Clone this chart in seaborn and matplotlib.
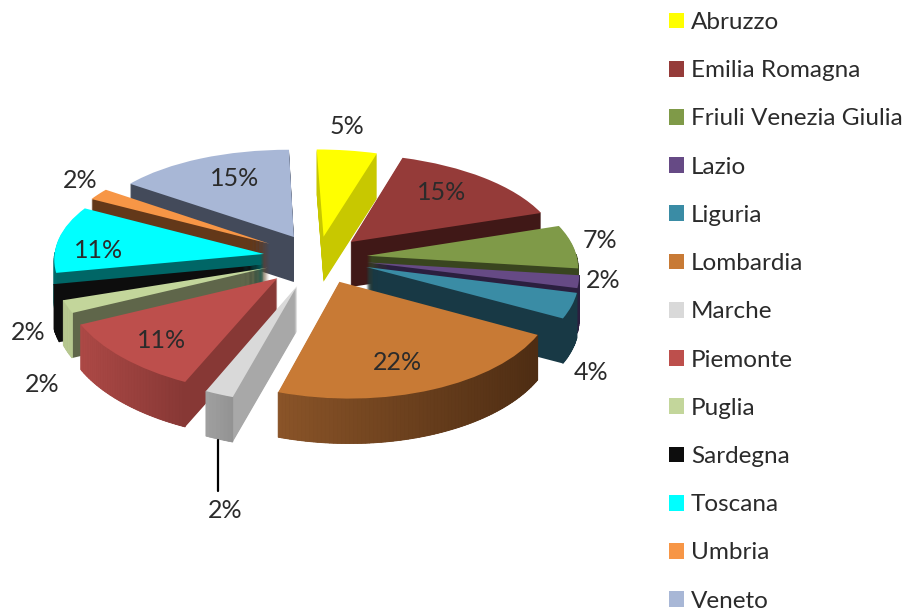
import numpy as np
import matplotlib
matplotlib.use('Agg')
import matplotlib.pyplot as plt
import matplotlib.transforms as mtrans
from matplotlib.colors import to_rgb
from matplotlib.lines import Line2D
from matplotlib.patches import Patch
import seaborn as sns

regions = ['Abruzzo', 'Emilia Romagna', 'Friuli Venezia Giulia', 'Lazio', 'Liguria', 'Lombardia', 'Marche',
           'Piemonte', 'Puglia', 'Sardegna', 'Toscana', 'Umbria', 'Veneto']
shares = [5, 15, 7, 2, 4, 22, 2, 11, 2, 2, 11, 2, 15]

top_colors = ['#ffff00', '#953b39', '#7f9a48', '#664a85', '#3a8ca5', '#c87a35', '#d9d9d9',
              '#bd4f4c', '#c3d69b', '#0d0d0d', '#00ffff', '#f79646', '#a8b7d6']
wall_colors = ['#c8c800', '#401817', '#39451f', '#2b1f3f', '#183945', '#4e2d13', '#a8a8a8',
               '#873835', '#5f664a', '#0d0d0d', '#006666', '#633819', '#434a5a']
rim_left = ['#c8c800', '#401817', '#39451f', '#2b1f3f', '#183945', '#8a5428', '#a0a0a0',
            '#ad4946', '#b7c890', '#0d0d0d', '#006a6a', '#633819', '#434a5a']
rim_right = ['#c8c800', '#401817', '#39451f', '#2b1f3f', '#183945', '#4e2d13', '#939393',
             '#873835', '#b7c890', '#0d0d0d', '#006a6a', '#633819', '#434a5a']
explode = [0.22, 0.23, 0.235, 0.235, 0.24, 0.25, 0.29, 0.28, 0.26, 0.27, 0.26, 0.27, 0.24]

# where the percent labels sit, in pixels of the picture
label_px = [(347, 127), (442, 192), (600, 241), (603, 281), (591, 372), (397, 362), (225, 510),
            (162, 341), (42, 384), (28, 333), (99, 250), (80, 181), (235, 179)]

W, H = 908, 615
CX, CY = 318, 258    # pie centre in pixels
RX, RY = 210, 100    # pixels per pie radius
DEPTH = 45           # thickness in pixels
TILT_Y = 0.10
TILT_X = 0.07
SHEAR = 0.035


def project(xy):
    xy = np.asarray(xy, dtype=float)
    sx = 1 / (1 + TILT_X * xy[:, 1])
    sy = 1 / (1 + TILT_Y * xy[:, 1])
    y = xy[:, 1] * sy
    return np.column_stack([xy[:, 0] * sx - SHEAR * y, y])


class Tilt(mtrans.Transform):
    input_dims = 2
    output_dims = 2
    is_separable = False
    has_inverse = False

    def transform_non_affine(self, values):
        return project(values)


sns.set_theme(style='white')
plt.rcParams['font.family'] = ['Lato', 'DejaVu Sans']

fig = plt.figure(figsize=(W / 100, H / 100), dpi=100, facecolor='white')
ax = fig.add_axes([0, 0, 1, 1])

tilt = Tilt()
top_palette = sns.color_palette(top_colors)

# stacked pies give the side walls, the last one on top is the visible face
for k in range(DEPTH, -1, -1):
    wedges, _ = ax.pie(shares, explode=explode, startangle=90, counterclock=False,
                       colors=wall_colors if k else top_palette)
    # painter's order, back slices first
    mids = np.radians([(w.theta1 + w.theta2) / 2 for w in wedges])
    rank = np.argsort(np.argsort([-(w.center[1] + np.sin(m)) for w, m in zip(wedges, mids)]))
    for w, r in zip(wedges, rank):
        w.set_transform(tilt + mtrans.Affine2D().translate(0, -k / RY) + ax.transData)
        w.set_linewidth(0)
        w.set_zorder(10 + r * 2 + (DEPTH - k) * 0.02 if k else 10 + r * 2 + 1.5)

# shaded outer rim, built from the wedges so it follows the values
for i, w in enumerate(wedges):
    angles = np.arange(w.theta1, w.theta2, 1.0)
    angles = np.append(angles, w.theta2)
    angles = angles[np.sin(np.radians(angles)) < 0.02]
    if len(angles) < 2:
        continue
    c0 = np.array(to_rgb(rim_left[i]))
    c1 = np.array(to_rgb(rim_right[i]))
    pts = project(np.column_stack([w.center[0] + w.r * np.cos(np.radians(angles)),
                                   w.center[1] + w.r * np.sin(np.radians(angles))]))
    span = pts[:, 0].max() - pts[:, 0].min()
    for j in range(len(pts) - 1):
        t = ((pts[j, 0] + pts[j + 1, 0]) / 2 - pts[:, 0].min()) / span
        ax.fill([pts[j, 0], pts[j + 1, 0], pts[j + 1, 0], pts[j, 0]],
                [pts[j, 1], pts[j + 1, 1], pts[j + 1, 1] - DEPTH / RY, pts[j, 1] - DEPTH / RY],
                color=c0 + (c1 - c0) * t, lw=0.6, zorder=10 + rank[i] * 2 + 1.2)

ax.set_aspect('auto')
ax.set_xlim(-CX / RX, (W - CX) / RX)
ax.set_ylim((CY - H) / RY, CY / RY)
ax.axis('off')

for value, (x, y) in zip(shares, label_px):
    fig.text(x / W, 1 - y / H, f'{value}%', ha='center', va='center', fontsize=18, color='#2b2b2b', zorder=50)

# leader line of the Marche label
fig.add_artist(Line2D([218 / W, 218 / W], [1 - 440 / H, 1 - 491 / H], color='black', lw=1.6))

handles = [Patch(facecolor=c, edgecolor='none') for c in top_colors]
fig.legend(handles, regions, loc='upper left', bbox_to_anchor=(669 / W, 1 - 12 / H), frameon=False,
           fontsize=17.5, labelcolor='#2b2b2b', borderpad=0, borderaxespad=0, handlelength=0.62,
           handleheight=0.62, handletextpad=0.29, labelspacing=1.12)

fig.savefig('out.png', dpi=100, facecolor='white')
